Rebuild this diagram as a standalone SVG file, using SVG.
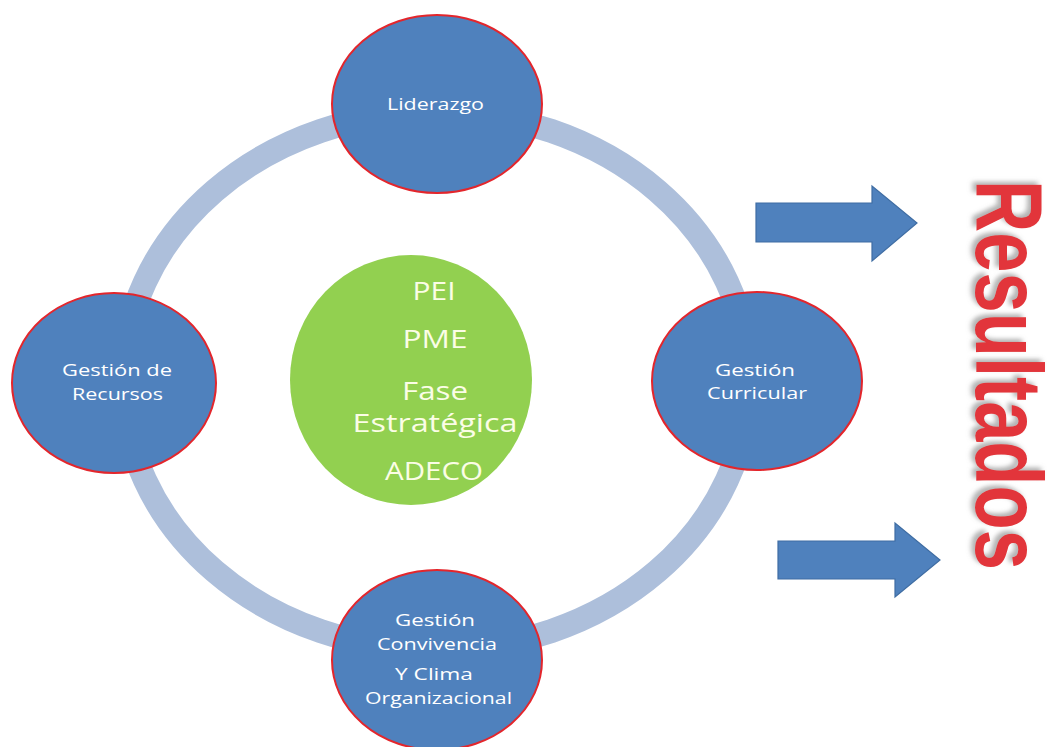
<svg xmlns="http://www.w3.org/2000/svg" width="1049" height="747" viewBox="0 0 1049 747">
  <style>
    .node { fill: #4f81bd; stroke: #e3262c; stroke-width: 2; }
    .ntxt { font-family: "Open Sans", "Liberation Sans", sans-serif; font-size: 17px; fill: #ffffff; text-anchor: middle; }
    .gtxt { font-family: "Open Sans", "Liberation Sans", sans-serif; font-size: 25px; fill: #fbfde6; text-anchor: middle; }
    .arrow { fill: #4f81bd; stroke: #3f6da3; stroke-width: 1.2; }
    .ring { fill: none; stroke: #adbfdb; stroke-width: 24; }
  </style>
  <defs>
    <filter id="shadow" x="-20%" y="-10%" width="140%" height="120%">
      <feDropShadow dx="-3" dy="3" stdDeviation="2" flood-color="#808080" flood-opacity="0.6"/>
    </filter>
  </defs>
  <rect x="0" y="0" width="1049" height="747" fill="#ffffff"/>

  <g id="connectors">
    <ellipse class="ring" cx="436" cy="381" rx="313" ry="269"/>
    <path class="arrow" d="M756,203 H872 V186 L917,223 L872,261 V242 H756 Z"/>
    <path class="arrow" d="M778,541 H895 V523 L940,560 L895,597 V579 H778 Z"/>
  </g>

  <g id="center">
    <ellipse cx="411" cy="380" rx="121" ry="125" fill="#92d050"/>
    <text class="gtxt" x="434" y="300" textLength="43" lengthAdjust="spacingAndGlyphs">PEI</text>
    <text class="gtxt" x="435" y="348" textLength="65" lengthAdjust="spacingAndGlyphs">PME</text>
    <text class="gtxt" x="435" y="400" textLength="66" lengthAdjust="spacingAndGlyphs">Fase</text>
    <text class="gtxt" x="435" y="432" textLength="165" lengthAdjust="spacingAndGlyphs">Estratégica</text>
    <text class="gtxt" x="434" y="480" textLength="98" lengthAdjust="spacingAndGlyphs">ADECO</text>
  </g>

  <g id="liderazgo">
    <ellipse class="node" cx="437" cy="104" rx="105" ry="89"/>
    <text class="ntxt" x="435.5" y="110" textLength="97" lengthAdjust="spacingAndGlyphs">Liderazgo</text>
  </g>

  <g id="gestion-recursos">
    <ellipse class="node" cx="114" cy="383" rx="102" ry="90"/>
    <text class="ntxt" x="117" y="376" textLength="110" lengthAdjust="spacingAndGlyphs">Gestión de</text>
    <text class="ntxt" x="117.5" y="400" textLength="91" lengthAdjust="spacingAndGlyphs">Recursos</text>
  </g>

  <g id="gestion-curricular">
    <ellipse class="node" cx="757" cy="381" rx="105" ry="89"/>
    <text class="ntxt" x="755" y="376" textLength="80" lengthAdjust="spacingAndGlyphs">Gestión</text>
    <text class="ntxt" x="757" y="399" textLength="100" lengthAdjust="spacingAndGlyphs">Curricular</text>
  </g>

  <g id="gestion-convivencia">
    <ellipse class="node" cx="437" cy="660" rx="105" ry="90"/>
    <text class="ntxt" x="435" y="626" textLength="80" lengthAdjust="spacingAndGlyphs">Gestión</text>
    <text class="ntxt" x="437" y="650" textLength="120" lengthAdjust="spacingAndGlyphs">Convivencia</text>
    <text class="ntxt" x="434" y="680" font-size="16" textLength="78" lengthAdjust="spacingAndGlyphs">Y Clima</text>
    <text class="ntxt" x="438.5" y="704" font-size="16" textLength="147" lengthAdjust="spacingAndGlyphs">Organizacional</text>
  </g>

  <g id="resultados">
    <text transform="translate(976,180) rotate(90) scale(1,1.3)" x="0" y="0" font-family="'Liberation Sans', Arial, sans-serif" font-weight="bold" font-size="72" fill="#e2363a" textLength="390" lengthAdjust="spacingAndGlyphs" filter="url(#shadow)">Resultados</text>
  </g>
</svg>
